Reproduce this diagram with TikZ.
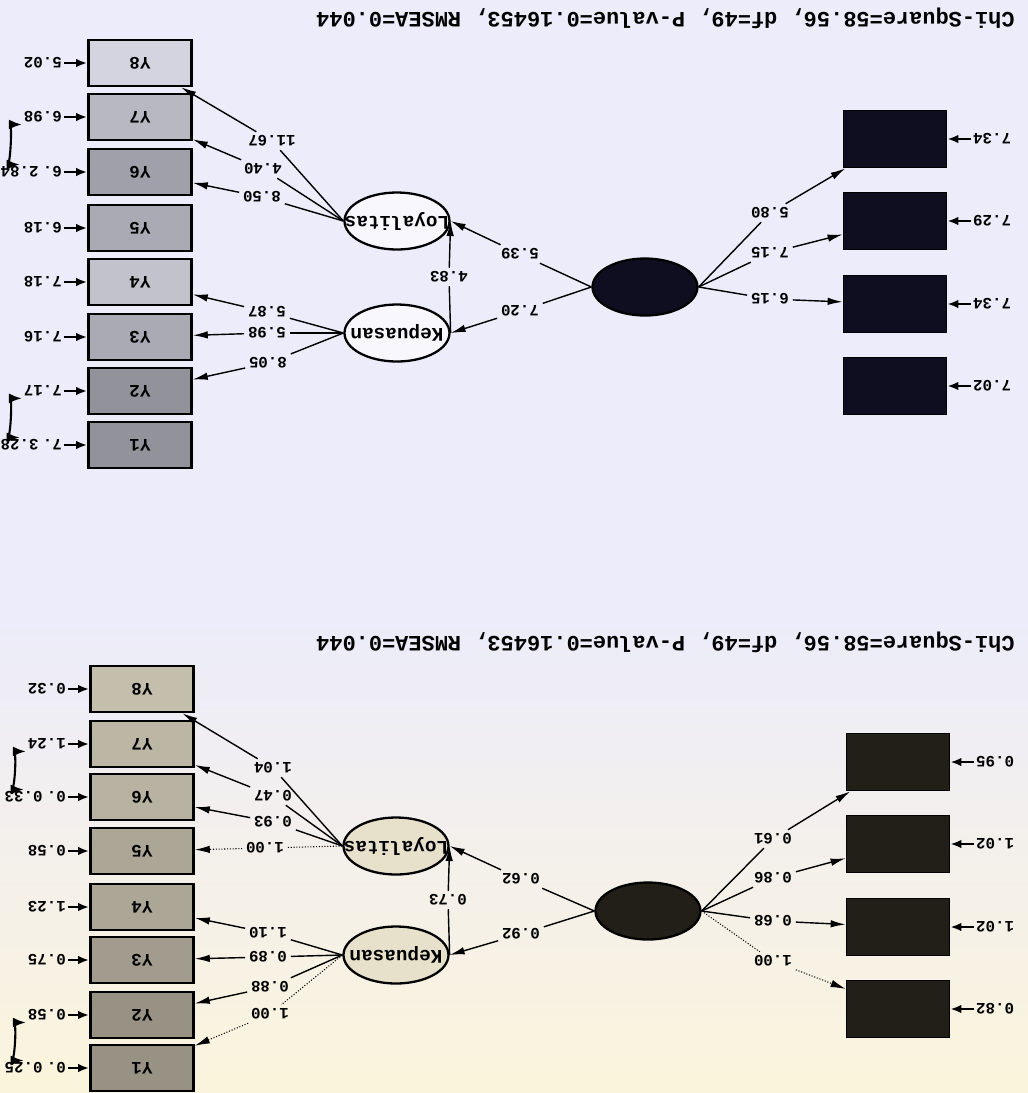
\documentclass[tikz,border=0pt]{standalone}
\usepackage{fontspec}
\setmonofont{Liberation Mono}
\usetikzlibrary{arrows.meta,shapes.geometric}

\definecolor{haze}{RGB}{236,236,250}
\definecolor{cream}{RGB}{251,244,220}
\definecolor{ink}{RGB}{14,14,32}
\definecolor{inkb}{RGB}{34,31,24}

\begin{document}
\begin{tikzpicture}[x=0.02cm,y=0.02cm,rotate=180,transform shape,
  font=\ttfamily\bfseries\fontsize{9}{10}\selectfont,
  ybox/.style={rectangle,draw,line width=1.5pt,minimum width=2.06cm,minimum height=0.92cm,inner sep=0pt,font=\ttfamily\bfseries\fontsize{10}{11}\selectfont},
  xbox/.style={rectangle,draw,line width=1pt,minimum width=2.06cm,minimum height=1.14cm},
  latent/.style={ellipse,draw,line width=1.3pt,minimum width=2.1cm,minimum height=1.14cm,inner sep=0pt,font=\ttfamily\bfseries\fontsize{11}{12}\selectfont},
  coef/.style={inner sep=2pt},
  errval/.style={inner sep=1pt},
  fitline/.style={font=\ttfamily\bfseries\fontsize{12.5}{14}\selectfont,anchor=west,inner sep=0pt},
  loadline/.style={line width=0.8pt},
  fixline/.style={line width=0.6pt,densely dotted},
  headed/.style={-{Latex[length=3mm,width=1.5mm]}},
  errarr/.style={line width=1.6pt,-{Latex[length=2.2mm,width=1.7mm]}},
  covar/.style={line width=1.2pt,{Latex[length=2.6mm,width=2mm]}-{Latex[length=2.6mm,width=2mm]}}]

% background
\fill[haze] (0,0) rectangle (1028,620);
\shade[bottom color=cream,top color=haze] (0,620) rectangle (1028,1093);
\useasboundingbox (0,0) rectangle (1028,1093);

%%%%%%%%%% t-values %%%%%%%%%%
\node[fitline] (tFit) at (13,18) {Chi-Square=58.56, df=49, P-value=0.16453, RMSEA=0.044};

\node[latent,fill=ink] (tKsi) at (383,287) {};
\node[latent,fill=white!60!haze] (tKep) at (631,333) {\makebox[0pt]{Kepuasan}};
\node[latent,fill=white!60!haze] (tLoy) at (631,221) {\makebox[0pt]{Loyalitas}};

\foreach \i/\y in {1/386,2/304,3/221,4/139}
  \node[xbox,fill=ink] (tX\i) at (133,\y) {};
\foreach \i/\y/\g in {8/63/10,7/117/22,6/172/32,5/228/28,4/282/18,3/337/28,2/391/38,1/445/38}
  \node[ybox,fill=black!\g!haze] (tY\i) at (888,\y) {Y\i};

% error terms
\foreach \i/\y/\v in {1/386/7.02,2/304/7.34,3/221/7.29,4/139/7.34} {
  \node[errval,anchor=east] (tEx\i) at (57,\y) {\v};
  \draw[errarr] (tEx\i) -- (tX\i);
}
\foreach \i/\y/\v in {8/63/5.02,7/117/6.98,6/172/6.,5/228/6.18,4/282/7.18,3/337/7.16,2/391/7.17,1/445/7.} {
  \node[errval,anchor=west] (tEy\i) at (964,\y) {\v};
  \draw[errarr] (tEy\i) -- (tY\i);
}
\node[errval,anchor=west] (tC6) at (tEy6.east) {2.84};
\node[errval,anchor=west] (tC1) at (tEy1.east) {3.28};
\draw[covar] (tEy7.north east) to[out=0,in=0,looseness=0.6] (tC6.south);
\draw[covar] (tEy2.north east) to[out=0,in=0,looseness=0.6] (tC1.south);

% loadings
\foreach \i/\x/\y/\v in {8/756/141/11.67,7/765/169/4.40,6/766/197/8.50} {
  \node[coef] (tL\i) at (\x,\y) {\v};
  \draw[loadline] (tLoy.east) -- (tL\i);
  \draw[loadline,headed] (tL\i) -- (tY\i);
}
\foreach \i/\x/\y/\v in {4/761/312/5.87,3/761/333/5.98,2/760/363/8.05} {
  \node[coef] (tL\i) at (\x,\y) {\v};
  \draw[loadline] (tKep.east) -- (tL\i);
  \draw[loadline,headed] (tL\i) -- (tY\i);
}
\foreach \i/\y/\v in {2/299/6.15,3/253/7.15,4/213/5.80} {
  \node[coef] (tLx\i) at (258,\y) {\v};
  \draw[loadline] (tKsi.west) -- (tLx\i);
  \draw[loadline,headed] (tLx\i) -- (tX\i);
}

% structural paths
\node[coef] (tG1) at (508,311) {7.20};
\node[coef] (tG2) at (508,254) {5.39};
\node[coef] (tB) at (579,277) {4.83};
\draw[loadline] (tKsi.east) -- (tG1);
\draw[loadline,headed] (tG1) -- (tKep.west);
\draw[loadline] (tKsi.east) -- (tG2);
\draw[loadline,headed] (tG2) -- (tLoy.west);
\draw[loadline] (tKep.west) -- (tB);
\draw[loadline,headed] (tB) -- (tLoy.west);

%%%%%%%%%% estimates %%%%%%%%%%
\node[fitline] (eFit) at (13,642) {Chi-Square=58.56, df=49, P-value=0.16453, RMSEA=0.044};

\node[latent,fill=inkb] (eKsi) at (380,911) {};
\node[latent,fill=black!8!cream] (eKep) at (632,955) {\makebox[0pt]{Kepuasan}};
\node[latent,fill=black!8!cream] (eLoy) at (632,846) {\makebox[0pt]{Loyalitas}};

\foreach \i/\y in {1/1009,2/927,3/844,4/762}
  \node[xbox,fill=inkb] (eX\i) at (130,\y) {};
\foreach \i/\y/\g in {8/689/22,7/744/25,6/797/27,5/851/32,4/907/32,3/960/36,2/1015/40,1/1068/40}
  \node[ybox,fill=black!\g!cream] (eY\i) at (886,\y) {Y\i};

% error terms
\foreach \i/\y/\v in {1/1009/0.82,2/927/1.02,3/844/1.02,4/762/0.95} {
  \node[errval,anchor=east] (eEx\i) at (54,\y) {\v};
  \draw[errarr] (eEx\i) -- (eX\i);
}
\foreach \i/\y/\v in {8/689/0.32,7/744/1.24,6/797/0.,5/851/0.58,4/907/1.23,3/960/0.75,2/1015/0.58,1/1068/0.} {
  \node[errval,anchor=west] (eEy\i) at (960,\y) {\v};
  \draw[errarr] (eEy\i) -- (eY\i);
}
\node[errval,anchor=west] (eC6) at (eEy6.east) {0.33};
\node[errval,anchor=west] (eC1) at (eEy1.east) {0.25};
\draw[covar] (eEy7.north east) to[out=0,in=0,looseness=0.6] (eC6.south);
\draw[covar] (eEy2.north east) to[out=0,in=0,looseness=0.6] (eC1.south);

% loadings
\foreach \i/\x/\y/\v in {8/755/768/1.04,7/755/796/0.47,6/755/822/0.93} {
  \node[coef] (eL\i) at (\x,\y) {\v};
  \draw[loadline] (eLoy.east) -- (eL\i);
  \draw[loadline,headed] (eL\i) -- (eY\i);
}
\node[coef] (eL5) at (763,848) {1.00};
\draw[fixline] (eLoy.east) -- (eL5);
\draw[fixline,headed] (eL5) -- (eY5);
\foreach \i/\x/\y/\v in {4/760/933/1.10,3/760/957/0.89,2/758/987/0.88} {
  \node[coef] (eL\i) at (\x,\y) {\v};
  \draw[loadline] (eKep.east) -- (eL\i);
  \draw[loadline,headed] (eL\i) -- (eY\i);
}
\node[coef] (eL1) at (758,1014) {1.00};
\draw[fixline] (eKep.east) -- (eL1);
\draw[fixline,headed] (eL1) -- (eY1);
\foreach \i/\y/\v in {2/921/0.68,3/878/0.86,4/839/0.61} {
  \node[coef] (eLx\i) at (255,\y) {\v};
  \draw[loadline] (eKsi.west) -- (eLx\i);
  \draw[loadline,headed] (eLx\i) -- (eX\i);
}
\node[coef] (eLx1) at (255,961) {1.00};
\draw[fixline] (eKsi.west) -- (eLx1);
\draw[fixline,headed] (eLx1) -- (eX1);

% structural paths
\node[coef] (eG1) at (507,934) {0.92};
\node[coef] (eG2) at (507,879) {0.62};
\node[coef] (eB) at (580,900) {0.73};
\draw[loadline] (eKsi.east) -- (eG1);
\draw[loadline,headed] (eG1) -- (eKep.west);
\draw[loadline] (eKsi.east) -- (eG2);
\draw[loadline,headed] (eG2) -- (eLoy.west);
\draw[loadline] (eKep.west) -- (eB);
\draw[loadline,headed] (eB) -- (eLoy.west);

\end{tikzpicture}
\end{document}
